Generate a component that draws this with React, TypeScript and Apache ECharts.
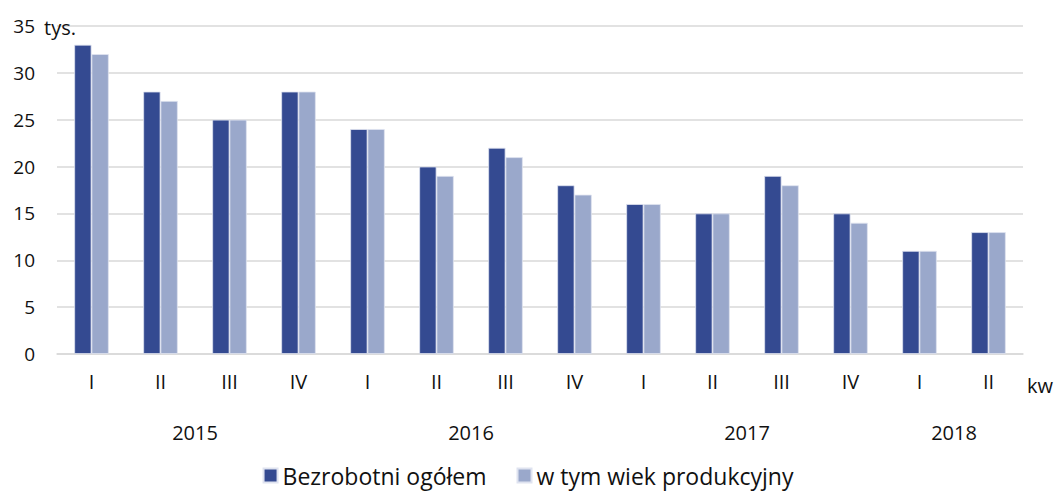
import React, { useEffect, useRef } from "react";
import * as echarts from "echarts";

const quarters = ["I", "II", "III", "IV", "I", "II", "III", "IV", "I", "II", "III", "IV", "I", "II"];
const years = ["2015", "2016", "2017", "2018"];
const yearSpans = [[0, 3], [4, 7], [8, 11], [12, 13]];
const bezrobotni = [33, 28, 25, 28, 24, 20, 22, 18, 16, 15, 19, 15, 11, 13];
const produkcyjny = [32, 27, 25, 28, 24, 19, 21, 17, 16, 15, 18, 14, 11, 13];
const seriesNames = ["Bezrobotni ogółem", "w tym wiek produkcyjny"];
const yTicks = { min: 0, max: 35, interval: 5 };

const FONT = "'Open Sans', sans-serif";

export default function App() {
  const ref = useRef<HTMLDivElement>(null);
  useEffect(() => {
    if (!ref.current) return;
    const chart = echarts.init(ref.current, null, { renderer: "svg" });
    chart.setOption({
      animation: false,
      textStyle: { fontFamily: FONT },
      grid: { left: 57, right: 33, top: 26, bottom: 139 },
      legend: {
        bottom: 1,
        left: "center",
        itemWidth: 14,
        itemHeight: 14,
        itemGap: 30,
        icon: "rect",
        textStyle: { fontSize: 23, color: "#111", fontFamily: FONT },
        data: seriesNames,
      },
      xAxis: {
        type: "category",
        data: quarters,
        axisTick: { show: false },
        axisLine: { lineStyle: { color: "#d9d9d9", width: 1.5 } },
        axisLabel: { fontSize: 20, color: "#111", margin: 17, fontFamily: FONT },
      },
      yAxis: {
        type: "value",
        min: yTicks.min,
        max: yTicks.max,
        interval: yTicks.interval,
        axisLabel: { fontSize: 19, color: "#111", margin: 22, fontFamily: FONT },
        splitLine: { lineStyle: { color: "#d9d9d9", width: 1.5 } },
        axisLine: { show: false },
        axisTick: { show: false },
      },
      series: [
        {
          name: seriesNames[0],
          type: "bar",
          data: bezrobotni,
          barGap: "0%",
          barCategoryGap: "50%",
          itemStyle: { color: "#344a91", borderColor: "#dfe3f0", borderWidth: 0.8 },
        },
        {
          name: seriesNames[1],
          type: "bar",
          data: produkcyjny,
          barGap: "0%",
          barCategoryGap: "50%",
          itemStyle: { color: "#9aa8cb", borderColor: "#dfe3f0", borderWidth: 0.8 },
        },
      ],
    });
    const graphics: any[] = [];
    yearSpans.forEach((span, i) => {
      const a = chart.convertToPixel({ xAxisIndex: 0 }, span[0]) as number;
      const b = chart.convertToPixel({ xAxisIndex: 0 }, span[1]) as number;
      graphics.push({
        type: "text",
        x: (a + b) / 2,
        y: 432,
        style: {
          text: years[i],
          fontSize: 20,
          fill: "#111",
          fontFamily: FONT,
          align: "center",
          verticalAlign: "middle",
        },
      });
    });
    graphics.push({
      type: "text",
      x: 1040,
      y: 385,
      style: { text: "kw", fontSize: 20, fill: "#111", fontFamily: FONT, align: "center", verticalAlign: "middle" },
    });
    graphics.push({
      type: "text",
      x: 44,
      y: 27,
      style: { text: "tys.", fontSize: 20, fill: "#111", fontFamily: FONT, align: "left", verticalAlign: "middle" },
    });
    chart.setOption({ graphic: graphics });
    return () => chart.dispose();
  }, []);
  return (
    <div
      ref={ref}
      style={{ position: "fixed", left: 0, top: 0, width: 1056, height: 493, background: "#fff" }}
    />
  );
}
